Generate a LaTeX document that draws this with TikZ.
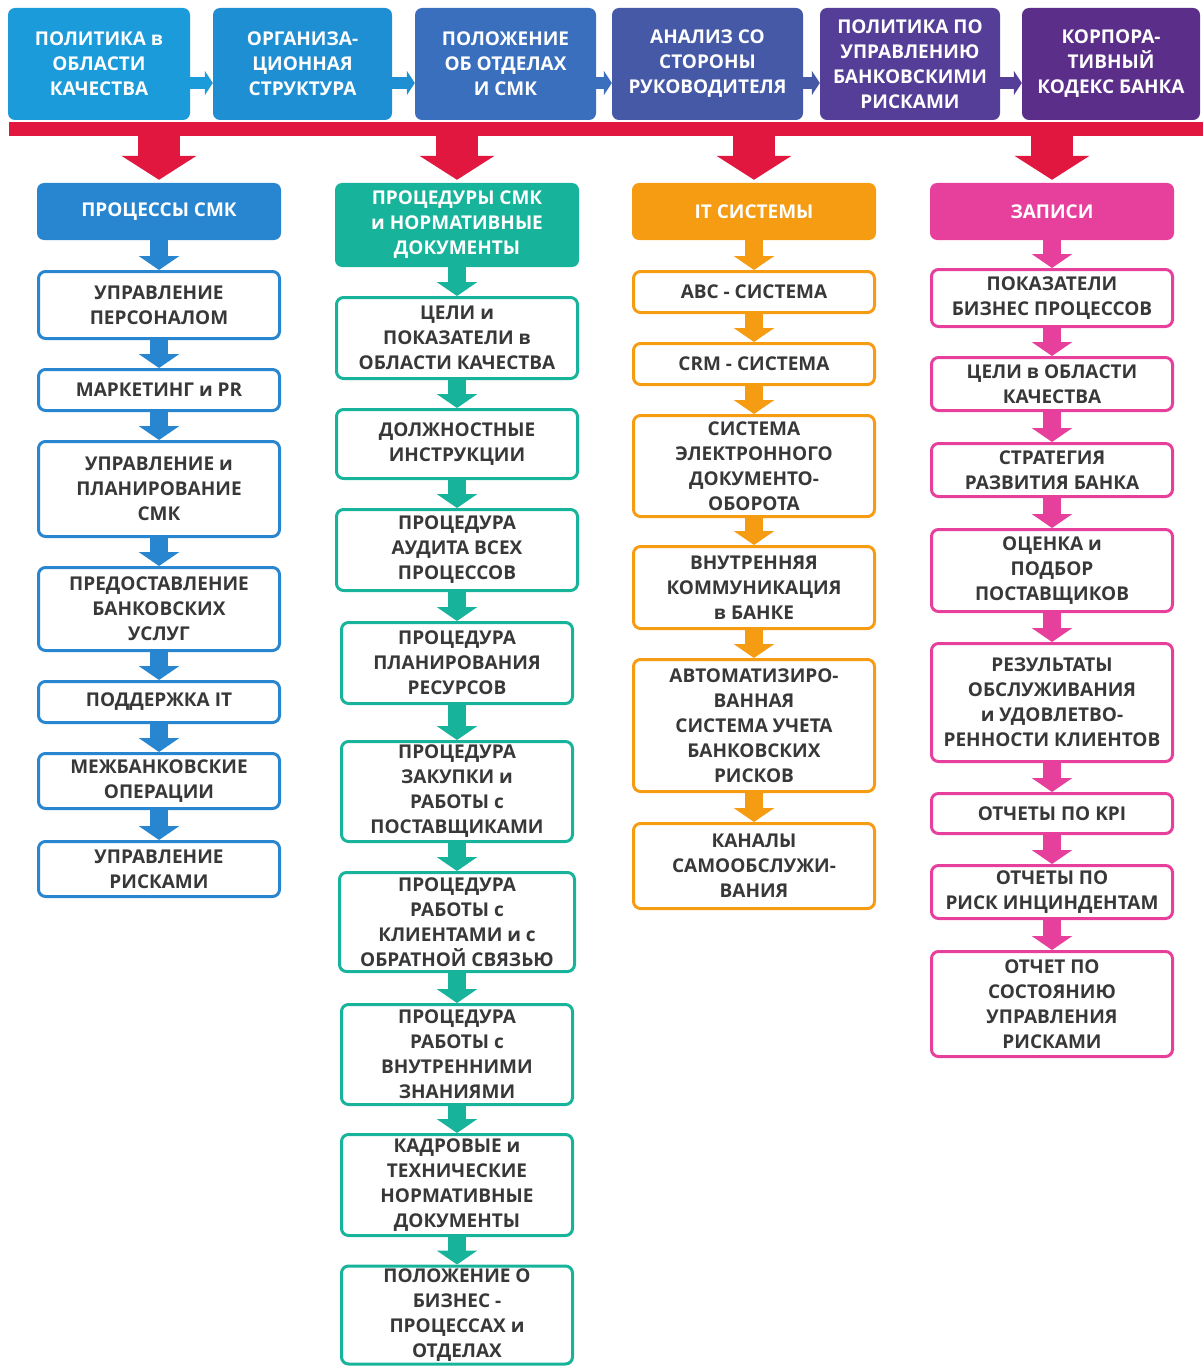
\documentclass[tikz,border=0pt]{standalone}
\usepackage{fontspec}
\setmainfont{Open Sans}
\usepackage{tikz}
\usetikzlibrary{arrows.meta, positioning}
\definecolor{topA}{HTML}{1B9BD9}
\definecolor{topB}{HTML}{1F8FD4}
\definecolor{topC}{HTML}{3A6FBE}
\definecolor{topD}{HTML}{4659A6}
\definecolor{topE}{HTML}{553E97}
\definecolor{topF}{HTML}{5B2E89}
\definecolor{barred}{HTML}{E2173F}
\definecolor{colblue}{HTML}{2886D1}
\definecolor{colteal}{HTML}{17B39B}
\definecolor{colorange}{HTML}{F59C12}
\definecolor{colpink}{HTML}{E6409C}
\definecolor{textdark}{HTML}{383838}
\newcommand{\boxfont}{\fontsize{19}{25}\selectfont\bfseries}
\tikzstyle{topbox} = [rectangle, rounded corners=7pt, text=white, font=\boxfont, align=center, minimum height=112pt, inner sep=2pt]
\tikzstyle{headbox} = [rectangle, rounded corners=7pt, text=white, font=\boxfont, align=center, minimum width=244pt, inner sep=2pt]
\tikzstyle{itembox} = [rectangle, draw, line width=3pt, rounded corners=7pt, fill=white, text=textdark, font=\boxfont, align=center, minimum width=241pt, inner sep=2pt]
\tikzstyle{downarrow} = [line width=18pt, -{Triangle[width=40pt, length=14pt]}]
\tikzstyle{redarrow} = [draw=barred, line width=42pt, shorten >=3pt, -{Triangle[width=74pt, length=24pt]}]
\tikzstyle{sidearrow} = [line width=12pt, -{Triangle[width=24pt, length=8pt]}]

\begin{document}
\begin{tikzpicture}[x=1pt, y=-1pt]
	\useasboundingbox (0,0) rectangle (1203,1367);

	% top row
	\node[topbox, fill=topA, minimum width=182pt] (t1) at (99,64) {ПОЛИТИКА в\\ОБЛАСТИ\\КАЧЕСТВА};
	\node[topbox, fill=topB, minimum width=179pt] (t2) at (302.5,64) {ОРГАНИЗА-\\ЦИОННАЯ\\СТРУКТУРА};
	\node[topbox, fill=topC, minimum width=181pt] (t3) at (505.5,64) {ПОЛОЖЕНИЕ\\ОБ ОТДЕЛАХ\\И СМК};
	\node[topbox, fill=topD, minimum width=191pt] (t4) at (707.5,64) {АНАЛИЗ СО\\СТОРОНЫ\\РУКОВОДИТЕЛЯ};
	\node[topbox, fill=topE, minimum width=180pt] (t5) at (910,64) {ПОЛИТИКА ПО\\УПРАВЛЕНИЮ\\БАНКОВСКИМИ\\РИСКАМИ};
	\node[topbox, fill=topF, minimum width=178pt] (t6) at (1111,64) {КОРПОРА-\\ТИВНЫЙ\\КОДЕКС БАНКА};
	\draw[sidearrow, topA] ([yshift=-19pt]t1.east) -- ([yshift=-19pt]t2.west);
	\draw[sidearrow, topB] ([yshift=-19pt]t2.east) -- ([yshift=-19pt]t3.west);
	\draw[sidearrow, topC] ([yshift=-19pt]t3.east) -- ([yshift=-19pt]t4.west);
	\draw[sidearrow, topD] ([yshift=-19pt]t4.east) -- ([yshift=-19pt]t5.west);
	\draw[sidearrow, topE] ([yshift=-19pt]t5.east) -- ([yshift=-19pt]t6.west);

	\node[fill=barred, minimum width=1194pt, minimum height=14pt, inner sep=0pt] (bar) at (606,129) {};

	% column headers
	\node[headbox, fill=colblue, minimum height=57pt] (h1) at (159,211.5) {ПРОЦЕССЫ СМК};
	\node[headbox, fill=colteal, minimum height=84pt] (h2) at (457,225) {ПРОЦЕДУРЫ СМК\\и НОРМАТИВНЫЕ\\ДОКУМЕНТЫ};
	\node[headbox, fill=colorange, minimum height=57pt] (h3) at (754,211.5) {IT СИСТЕМЫ};
	\node[headbox, fill=colpink, minimum height=57pt] (h4) at (1052,211.5) {ЗАПИСИ};
	\draw[redarrow] (bar.south -| h1.north) -- (h1.north);
	\draw[redarrow] (bar.south -| h2.north) -- (h2.north);
	\draw[redarrow] (bar.south -| h3.north) -- (h3.north);
	\draw[redarrow] (bar.south -| h4.north) -- (h4.north);

	% processes
	\node[itembox, draw=colblue, minimum height=67pt] (a1) at (159,305) {УПРАВЛЕНИЕ\\ПЕРСОНАЛОМ};
	\node[itembox, draw=colblue, minimum height=41pt] (a2) at (159,390) {МАРКЕТИНГ и PR};
	\node[itembox, draw=colblue, minimum height=95pt] (a3) at (159,489) {УПРАВЛЕНИЕ и\\ПЛАНИРОВАНИЕ\\СМК};
	\node[itembox, draw=colblue, minimum height=83pt] (a4) at (159,609) {ПРЕДОСТАВЛЕНИЕ\\БАНКОВСКИХ\\УСЛУГ};
	\node[itembox, draw=colblue, minimum height=41pt] (a5) at (159,702) {ПОДДЕРЖКА IT};
	\node[itembox, draw=colblue, minimum height=55pt] (a6) at (159,781) {МЕЖБАНКОВСКИЕ\\ОПЕРАЦИИ};
	\node[itembox, draw=colblue, minimum height=55pt] (a7) at (159,869) {УПРАВЛЕНИЕ\\РИСКАМИ};
	\draw[downarrow, colblue] (h1) -- (a1);
	\draw[downarrow, colblue] (a1) -- (a2);
	\draw[downarrow, colblue] (a2) -- (a3);
	\draw[downarrow, colblue] (a3) -- (a4);
	\draw[downarrow, colblue] (a4) -- (a5);
	\draw[downarrow, colblue] (a5) -- (a6);
	\draw[downarrow, colblue] (a6) -- (a7);

	% procedures
	\node[itembox, draw=colteal, minimum height=81pt] (b1) at (457,338) {ЦЕЛИ и\\ПОКАЗАТЕЛИ в\\ОБЛАСТИ КАЧЕСТВА};
	\node[itembox, draw=colteal, minimum height=69pt] (b2) at (457,444) {ДОЛЖНОСТНЫЕ\\ИНСТРУКЦИИ};
	\node[itembox, draw=colteal, minimum height=81pt] (b3) at (457,550) {ПРОЦЕДУРА\\АУДИТА ВСЕХ\\ПРОЦЕССОВ};
	\node[itembox, draw=colteal, minimum height=81pt, minimum width=231pt] (b4) at (457,663) {ПРОЦЕДУРА\\ПЛАНИРОВАНИЯ\\РЕСУРСОВ};
	\node[itembox, draw=colteal, minimum height=100pt, minimum width=231pt] (b5) at (457,791.5) {ПРОЦЕДУРА\\ЗАКУПКИ и\\РАБОТЫ с\\ПОСТАВЩИКАМИ};
	\node[itembox, draw=colteal, minimum height=99pt, minimum width=235pt] (b6) at (457,922) {ПРОЦЕДУРА\\РАБОТЫ с\\КЛИЕНТАМИ и с\\ОБРАТНОЙ СВЯЗЬЮ};
	\node[itembox, draw=colteal, minimum height=100pt, minimum width=231pt] (b7) at (457,1054.5) {ПРОЦЕДУРА\\РАБОТЫ с\\ВНУТРЕННИМИ\\ЗНАНИЯМИ};
	\node[itembox, draw=colteal, minimum height=101pt, minimum width=231pt] (b8) at (457,1185) {КАДРОВЫЕ и\\ТЕХНИЧЕСКИЕ\\НОРМАТИВНЫЕ\\ДОКУМЕНТЫ};
	\node[itembox, draw=colteal, minimum height=98pt, minimum width=231pt] (b9) at (457,1315) {ПОЛОЖЕНИЕ О\\БИЗНЕС -\\ПРОЦЕССАХ и\\ОТДЕЛАХ};
	\draw[downarrow, colteal] (h2) -- (b1);
	\draw[downarrow, colteal] (b1) -- (b2);
	\draw[downarrow, colteal] (b2) -- (b3);
	\draw[downarrow, colteal] (b3) -- (b4);
	\draw[downarrow, colteal] (b4) -- (b5);
	\draw[downarrow, colteal] (b5) -- (b6);
	\draw[downarrow, colteal] (b6) -- (b7);
	\draw[downarrow, colteal] (b7) -- (b8);
	\draw[downarrow, colteal] (b8) -- (b9);

	% it systems
	\node[itembox, draw=colorange, minimum height=41pt] (c1) at (754,292) {АВС - СИСТЕМА};
	\node[itembox, draw=colorange, minimum height=41pt] (c2) at (754,364) {CRM - СИСТЕМА};
	\node[itembox, draw=colorange, minimum height=101pt] (c3) at (754,466) {СИСТЕМА\\ЭЛЕКТРОННОГО\\ДОКУМЕНТО-\\ОБОРОТА};
	\node[itembox, draw=colorange, minimum height=82pt] (c4) at (754,587.5) {ВНУТРЕННЯЯ\\КОММУНИКАЦИЯ\\в БАНКЕ};
	\node[itembox, draw=colorange, minimum height=132pt] (c5) at (754,725.5) {АВТОМАТИЗИРО-\\ВАННАЯ\\СИСТЕМА УЧЕТА\\БАНКОВСКИХ\\РИСКОВ};
	\node[itembox, draw=colorange, minimum height=85pt] (c6) at (754,866) {КАНАЛЫ\\САМООБСЛУЖИ-\\ВАНИЯ};
	\draw[downarrow, colorange] (h3) -- (c1);
	\draw[downarrow, colorange] (c1) -- (c2);
	\draw[downarrow, colorange] (c2) -- (c3);
	\draw[downarrow, colorange] (c3) -- (c4);
	\draw[downarrow, colorange] (c4) -- (c5);
	\draw[downarrow, colorange] (c5) -- (c6);

	% records
	\node[itembox, draw=colpink, minimum height=57pt] (d1) at (1052,298) {ПОКАЗАТЕЛИ\\БИЗНЕС ПРОЦЕССОВ};
	\node[itembox, draw=colpink, minimum height=53pt] (d2) at (1052,384) {ЦЕЛИ в ОБЛАСТИ\\КАЧЕСТВА};
	\node[itembox, draw=colpink, minimum height=53pt] (d3) at (1052,470) {СТРАТЕГИЯ\\РАЗВИТИЯ БАНКА};
	\node[itembox, draw=colpink, minimum height=82pt] (d4) at (1052,570.5) {ОЦЕНКА и\\ПОДБОР\\ПОСТАВЩИКОВ};
	\node[itembox, draw=colpink, minimum height=118pt] (d5) at (1052,702.5) {РЕЗУЛЬТАТЫ\\ОБСЛУЖИВАНИЯ\\и УДОВЛЕТВО-\\РЕННОСТИ КЛИЕНТОВ};
	\node[itembox, draw=colpink, minimum height=40pt] (d6) at (1052,813.5) {ОТЧЕТЫ ПО KPI};
	\node[itembox, draw=colpink, minimum height=53pt] (d7) at (1052,892) {ОТЧЕТЫ ПО\\РИСК ИНЦИНДЕНТАМ};
	\node[itembox, draw=colpink, minimum height=105pt] (d8) at (1052,1004) {ОТЧЕТ ПО\\СОСТОЯНИЮ\\УПРАВЛЕНИЯ\\РИСКАМИ};
	\draw[downarrow, colpink] (h4) -- (d1);
	\draw[downarrow, colpink] (d1) -- (d2);
	\draw[downarrow, colpink] (d2) -- (d3);
	\draw[downarrow, colpink] (d3) -- (d4);
	\draw[downarrow, colpink] (d4) -- (d5);
	\draw[downarrow, colpink] (d5) -- (d6);
	\draw[downarrow, colpink] (d6) -- (d7);
	\draw[downarrow, colpink] (d7) -- (d8);
\end{tikzpicture}
\end{document}
